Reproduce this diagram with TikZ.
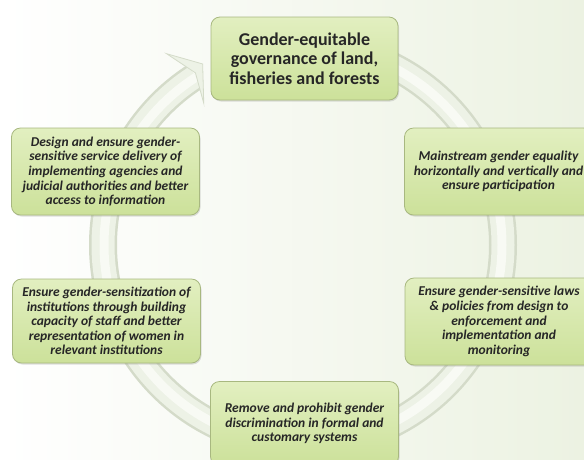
\documentclass[tikz,border=0pt]{standalone}
\usepackage{fontspec}
\setmainfont{Carlito}
\usetikzlibrary{shadows}
\definecolor{bgright}{RGB}{236,242,226}
\definecolor{boxtop}{RGB}{226,239,192}
\definecolor{boxbot}{RGB}{204,225,154}
\definecolor{boxline}{RGB}{168,184,128}
\definecolor{ringedge}{RGB}{212,219,201}
\definecolor{ringfill}{RGB}{237,242,230}
\definecolor{ringlight}{RGB}{248,250,244}
\tikzset{
  stepbox/.style={draw=boxline, rounded corners=9pt, top color=boxtop, bottom color=boxbot,
    minimum width=188pt, align=center, text=black!85, inner sep=1pt,
    font=\bfseries\itshape\fontsize{13.5}{14.6}\selectfont,
    drop shadow={opacity=.25, shadow xshift=1pt, shadow yshift=-1.5pt}},
  goalbox/.style={stepbox, minimum width=187pt, minimum height=83pt,
    font=\bfseries\fontsize{18}{19.5}\selectfont}
}
\begin{document}
\begin{tikzpicture}[x=1pt, y=1pt, thick]
\useasboundingbox (0,0) rectangle (584,-459);
\shade[left color=white, right color=bgright] (0,0) rectangle (584,-459);

\coordinate (c) at (303,-245);
\draw [ringedge, line width=28pt]([shift={(90:200)}]c) arc[start angle=90, end angle=-237, radius=200];
\draw [ringfill, line width=23pt]([shift={(90:200)}]c) arc[start angle=90, end angle=-237.5, radius=200];
\draw [ringlight, line width=9pt]([shift={(90:199)}]c) arc[start angle=90, end angle=-237.5, radius=199];
\filldraw [draw=ringedge, fill=ringfill, line width=.8pt]([shift={(119:207)}]c) -- ([shift={(125.5:235)}]c)
  -- ([shift={(122:203)}]c) -- ([shift={(125:173)}]c) -- cycle;

\node [goalbox] (goal) at (304.5,-58.5) {Gender-equitable\\governance of land,\\fisheries and forests};
\node [stepbox, minimum height=87pt] (service) at (105.5,-171.5) {Design and ensure gender-\\sensitive service delivery of\\implementing agencies and\\judicial authorities and better\\access to information};
\node [stepbox, minimum height=87pt] (mainstream) at (498.5,-171.5) {Mainstream gender equality\\horizontally and vertically and\\ensure participation};
\node [stepbox, minimum height=84pt] (sensitize) at (106.5,-321) {Ensure gender-sensitization of\\institutions through building\\capacity of staff and better\\representation of women in\\relevant institutions};
\node [stepbox, minimum height=87pt] (laws) at (499,-321.5) {Ensure gender-sensitive laws\\\& policies from design to\\enforcement and\\implementation and\\monitoring};
\node [stepbox, minimum height=84pt] (remove) at (304.5,-423.5) {Remove and prohibit gender\\discrimination in formal and\\customary systems};
\end{tikzpicture}
\end{document}
